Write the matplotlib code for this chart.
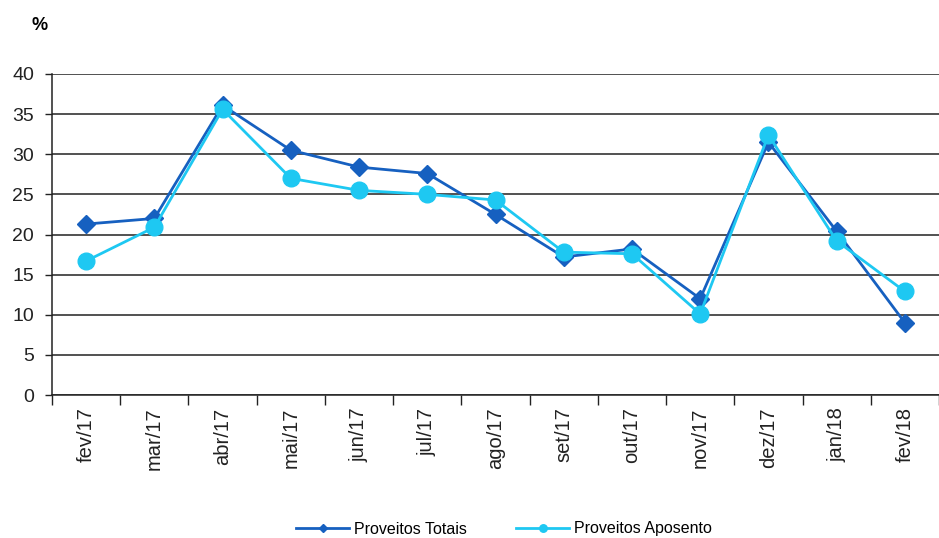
import numpy as np
import matplotlib.pyplot as plt

plt.rcParams['font.family'] = ['Liberation Sans', 'DejaVu Sans']

# 数据
meses = ['fev/17', 'mar/17', 'abr/17', 'mai/17', 'jun/17', 'jul/17', 'ago/17',
         'set/17', 'out/17', 'nov/17', 'dez/17', 'jan/18', 'fev/18']
totais = [21.3, 22.0, 36.1, 30.5, 28.4, 27.6, 22.5, 17.2, 18.2, 12.0, 31.5, 20.4, 9.0]
aposento = [16.7, 20.9, 35.6, 27.0, 25.5, 25.0, 24.3, 17.8, 17.6, 10.1, 32.4, 19.2, 12.9]

cor_totais = '#1660C0'
cor_apos = '#1EC8F2'

fig = plt.figure(figsize=(9.39, 5.38), dpi=100)
ax = fig.add_axes([52/939, 143/538, 887/939, 321/538])

x = np.arange(len(meses))
ax.plot(x, totais, '-', color=cor_totais, lw=2, marker='D', markersize=9,
        label='Proveitos Totais', zorder=3)
ax.plot(x, aposento, '-', color=cor_apos, lw=2, marker='o', markersize=12,
        label='Proveitos Aposento', zorder=4)

ax.set_xlim(-0.5, 12.36)
ax.set_ylim(0, 40)
ax.set_yticks(np.arange(0, 41, 5))
ax.tick_params(axis='y', labelsize=14, length=5, width=1, pad=8, colors='#222222')
ax.grid(axis='y', color='#222222', lw=1.1)
ax.set_axisbelow(True)

ax.set_xticks(x)
ax.set_xticklabels(meses, rotation=90, fontsize=14.5)
ax.tick_params(axis='x', which='major', length=0, pad=9, colors='#222222')
ax.set_xticks(np.arange(-0.5, 13, 1), minor=True)
ax.tick_params(axis='x', which='minor', length=7, width=1, color='#222222')

for s in ['top', 'right']:
    ax.spines[s].set_visible(False)
ax.spines['left'].set_color('#222222')
ax.spines['bottom'].set_color('#222222')
ax.spines['left'].set_linewidth(1.1)
ax.spines['bottom'].set_linewidth(1.1)

fig.text(40/939, 1 - 25/538, '%', fontsize=13, fontweight='bold', ha='center', va='center')

fig.legend(loc='center', bbox_to_anchor=(504/939, 1 - 529/538), ncol=2, frameon=False,
           fontsize=11.5, handlelength=3.3, columnspacing=3.1, markerscale=0.45,
           handletextpad=0.3)

plt.savefig('out.png', dpi=100)
